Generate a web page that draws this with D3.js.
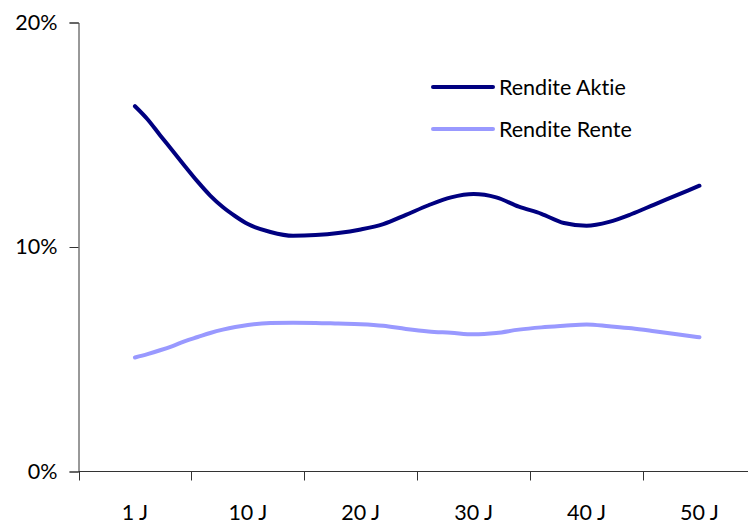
<!DOCTYPE html>
<html>
<head>
<meta charset="utf-8">
<script src="https://cdn.jsdelivr.net/npm/d3@7"></script>
<style>
  html, body { margin: 0; padding: 0; background: #fff; }
  svg { display: block; font-family: Lato, "Open Sans", sans-serif; font-variant-ligatures: none; font-feature-settings: "liga" 0, "clig" 0; }
</style>
</head>
<body>
<svg id="chart" width="748" height="524"></svg>
<script>
// ---- data ----
const categories = ["1 J", "10 J", "20 J", "30 J", "40 J", "50 J"];
const categoryYears = [1, 10, 20, 30, 40, 50];
const years = [1, 2, 3, 4, 5, 6, 7, 8, 9, 10, 12, 14, 16, 18, 20, 22, 24, 26, 28, 30,
               32, 34, 36, 38, 40, 42, 44, 46, 48, 50];
const renditeAktie = [16.27, 15.69, 14.98, 14.29, 13.59, 12.91, 12.29, 11.78, 11.37, 11.02,
                      10.67, 10.50, 10.53, 10.62, 10.78, 11.02, 11.43, 11.86, 12.21, 12.36,
                      12.21, 11.80, 11.48, 11.07, 10.95, 11.12, 11.47, 11.89, 12.31, 12.73];
const renditeRente = [5.08, 5.23, 5.40, 5.59, 5.81, 5.99, 6.17, 6.32, 6.44, 6.53,
                      6.61, 6.63, 6.62, 6.59, 6.56, 6.49, 6.35, 6.24, 6.18, 6.11,
                      6.17, 6.32, 6.42, 6.49, 6.55, 6.47, 6.38, 6.25, 6.11, 5.98];
const yTicks = [0, 10, 20];
const seriesNames = ["Rendite Aktie", "Rendite Rente"];
const seriesColors = ["#000080", "#9999ff"];

// ---- layout ----
const svg = d3.select("#chart");
const plotLeft = 78.5, plotTop = 22.5, plotBottom = 471.5;
const band = d3.scaleBand().domain(categories).range([plotLeft, plotLeft + 6 * 112.9]).paddingInner(0).paddingOuter(0);
const x = d3.scaleLinear().domain(categoryYears).range(categories.map(c => band(c) + band.bandwidth() / 2));
const y = d3.scaleLinear().domain([0, 20]).range([plotBottom, plotTop]);

// y axis
const yAxis = svg.append("g").attr("transform", `translate(${plotLeft},0)`)
  .call(d3.axisLeft(y).tickValues(yTicks).tickFormat(d => d + "%").tickSize(9).tickPadding(12));
yAxis.select(".domain").attr("stroke", "#333");
yAxis.selectAll(".tick line").attr("stroke", "#333");
yAxis.selectAll("text").attr("font-size", 21.5).attr("fill", "#000").attr("font-family", "Lato, sans-serif");

// x axis
const xAxis = svg.append("g").attr("transform", `translate(0,${plotBottom})`)
  .call(d3.axisBottom(band).tickSize(0).tickPadding(33));
xAxis.select(".domain").remove();
xAxis.selectAll("text").attr("font-size", 21.5).attr("fill", "#000").attr("font-family", "Lato, sans-serif");
xAxis.append("line").attr("x1", plotLeft).attr("x2", 748).attr("y1", 0).attr("y2", 0).attr("stroke", "#333");
xAxis.selectAll(".bt").data(categories).join("line").attr("class", "bt")
  .attr("x1", d => Math.round(band(d)) + 0.5).attr("x2", d => Math.round(band(d)) + 0.5)
  .attr("y1", 0).attr("y2", 9).attr("stroke", "#333");

// lines
const line = d3.line().x((d, i) => x(years[i])).y(d => y(d)).curve(d3.curveMonotoneX);
[renditeAktie, renditeRente].forEach((s, k) => {
  svg.append("path").datum(s).attr("d", line)
    .attr("fill", "none").attr("stroke", seriesColors[k]).attr("stroke-width", 4)
    .attr("stroke-linecap", "round").attr("stroke-linejoin", "round");
});

// legend
const legend = svg.append("g");
seriesNames.forEach((n, k) => {
  const ly = 87 + k * 42;
  legend.append("line").attr("x1", 433).attr("x2", 493).attr("y1", ly).attr("y2", ly)
    .attr("stroke", seriesColors[k]).attr("stroke-width", 4).attr("stroke-linecap", "round");
  legend.append("text").attr("x", 499).attr("y", ly + 8).attr("font-size", 21.5).attr("fill", "#000").text(n);
});
</script>
</body>
</html>
